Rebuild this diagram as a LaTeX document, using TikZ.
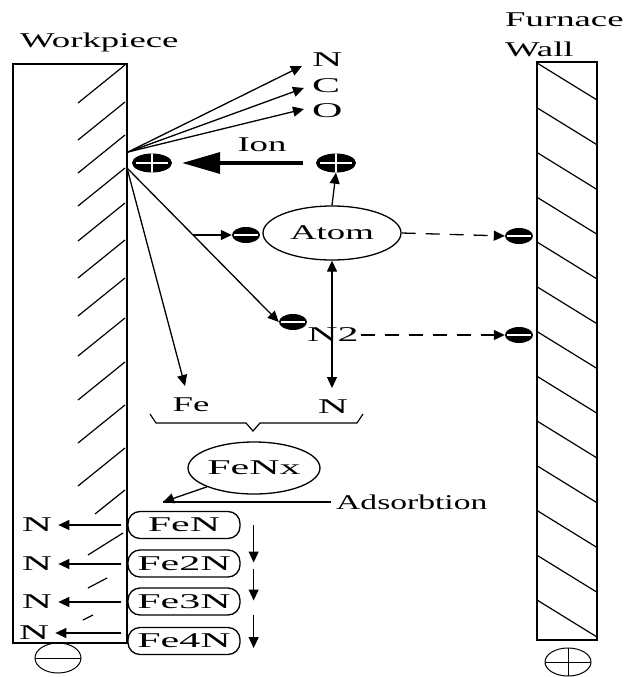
\documentclass[tikz,border=0pt]{standalone}
\usepackage{fontspec}
\usepackage{graphicx}
\setmainfont{Liberation Serif}
\newcommand\sx[1]{\scalebox{1.75}[1]{#1}}
\newcommand\sw[1]{\scalebox{2.0}[1]{#1}}
\usetikzlibrary{arrows.meta,shapes.geometric,calc}
\begin{document}
\begin{tikzpicture}[x=1pt,y=-1pt,
  txt/.style={inner sep=0pt, font={\fontsize{21}{23}\selectfont}},
  arr/.style={-{Triangle[length=11pt,width=10pt]}, line width=1.3pt},
  bigarr/.style={-{Triangle[length=38pt,width=21pt]}, line width=3.5pt},
  dasharr/.style={arr, dash pattern=on 14pt off 10pt},
  wallline/.style={line width=2.2pt},
  hatch/.style={line width=1.2pt},
  plusion/.style={ellipse, fill=black, minimum width=40pt, minimum height=19pt, inner sep=0pt,
    path picture={\draw[white, line width=2.4pt]
      ([xshift=4pt]path picture bounding box.west) -- ([xshift=-4pt]path picture bounding box.east)
      (path picture bounding box.north) -- (path picture bounding box.south);}},
  minusion/.style={ellipse, fill=black, minimum width=28pt, minimum height=16pt, inner sep=0pt,
    path picture={\draw[white, line width=2pt]
      ([xshift=2pt]path picture bounding box.west) -- ([xshift=-2pt]path picture bounding box.east);}},
  bx/.style={draw, rounded corners=12pt, minimum width=112pt, minimum height=27pt, inner sep=0pt, line width=1.3pt, txt},
  oval/.style={draw, ellipse, inner sep=0pt, line width=1.3pt}
]
\useasboundingbox (0,0) rectangle (631,677);

% walls
\draw[wallline] (13,64) rectangle (127,643);
\draw[wallline] (537,62) rectangle (597,640);
\foreach \y in {65,102,135,168,203,240,278,318,362,405,448} {
  \draw[hatch] (78,\y+38) -- (125,\y);
}
\draw[hatch] (95,514) -- (125,490);
\draw[hatch] (88,555) -- (123,533);
\draw[hatch] (88,588) -- (107,578);
\draw[hatch] (83,620) -- (93,615);
\foreach \k in {0,...,12} {
  \draw[hatch] (537,63+\k*44.75) -- (597,100+\k*44.75);
}

% labels
\node[txt, anchor=west] (wpl) at (20,42) {\sx{Workpiece}};
\node[txt, anchor=west] (fur) at (505,20) {\sx{Furnace}};
\node[txt, anchor=west] (wal) at (505,49) {\sx{Wall}};

% sources
\coordinate (src1) at (128,152);
\coordinate (src2) at (127,168);

% N C O
\node[txt, anchor=west] (lN) at (312,60) {\sw{N}};
\node[txt, anchor=west] (lC) at (312,86) {\sw{C}};
\node[txt, anchor=west] (lO) at (312,111) {\sw{O}};
\coordinate (tN) at (302,66);
\coordinate (tC) at (304,88);
\coordinate (tO) at (304,109);
\draw[arr] (src1) -- (tN);
\draw[arr] (src1) -- (tC);
\draw[arr] (src1) -- (tO);

% ions
\node[plusion] (pion1) at (152,163) {};
\node[plusion] (pion2) at (336,163) {};
\node[txt] (ion) at (262,145) {\sx{Ion}};
\draw[bigarr] ([xshift=-13pt]pion2.west) -- ([xshift=10pt]pion1.east);

\node[oval, minimum width=138pt, minimum height=54pt, txt] (atom) at (332,233) {\sx{Atom}};
\draw[arr] (atom.north) -- (pion2.south);

\node[minusion] (m1) at (246,235) {};
\coordinate (br) at (193,235);
\draw[arr] (br) -- (m1.west);

\node[minusion] (m2) at (293,322) {};
\draw[arr] (src2) -- (m2.west);

\node[minusion] (mw1) at (519,236) {};
\node[minusion] (mw2) at (519,335) {};
\draw[dasharr] (atom.east) -- (mw1.west);

\node[txt] (n2) at (333,335) {\sw{N2}};
\draw[dasharr] ([xshift=2pt]n2.east) -- (mw2.west);

\node[txt] (nb) at (333,407) {\sw{N}};
\coordinate (tNd) at (332,388);
\draw[{Triangle[length=11pt,width=10pt]}-{Triangle[length=11pt,width=10pt]}, line width=1.3pt] (atom.south) -- (tNd);

\node[txt] (fe) at (191,405) {\sx{Fe}};
\coordinate (tFe) at (185,386);
\draw[arr] (src2) -- (tFe);

% brace
\draw[line width=1.2pt] (150,414) -- (156,423) -- (246,423) -- (253,431) -- (260,423) -- (357,423) -- (363,414);

% FeNx
\node[oval, minimum width=104pt, minimum height=52pt, txt] (fenx) at (254,468) {\sw{FeNx}};
\node[txt, anchor=west] (adsl) at (336,502) {\scalebox{1.6}[1]{Adsorbtion}};
\coordinate (ads) at (163,502);
\draw[line width=1.3pt] ([xshift=-5pt]adsl.west) -- (ads);
\draw[arr] (fenx.south west) -- (ads);

% boxes
\node[bx] (b1) at (184,525) {\sw{FeN}};
\node[bx] (b2) at (184,563.5) {\sw{Fe2N}};
\node[bx] (b3) at (184,601.5) {\sw{Fe3N}};
\node[bx] (b4) at (184,641) {\sw{Fe4N}};

\node[txt] (nl1) at (37,525) {\sw{N}};
\node[txt] (nl2) at (37,564) {\sw{N}};
\node[txt] (nl3) at (37,602) {\sw{N}};
\node[txt] (nl4) at (34,633) {\sw{N}};
\draw[arr] ($(nl1.east -| b1.west)+(-6,0)$) -- ($(nl1.east)+(6,0)$);
\draw[arr] ($(nl2.east -| b2.west)+(-6,0)$) -- ($(nl2.east)+(6,0)$);
\draw[arr] ($(nl3.east -| b3.west)+(-6,0)$) -- ($(nl3.east)+(6,0)$);
\draw[arr] ($(nl4.east -| b4.west)+(-6,0)$) -- ($(nl4.east)+(6,0)$);

\draw[arr] ($(b1.east)+(13,0)$) -- ($(b2.east)+(13,-1)$);
\draw[arr] ($(b2.east)+(13,5)$) -- ($(b3.east)+(13,-1)$);
\draw[arr] ($(b3.east)+(13,13)$) -- ($(b4.east)+(13,7)$);

% polarity
\node[oval, line width=1pt, minimum width=46pt, minimum height=30pt,
  path picture={\draw[line width=1pt] (path picture bounding box.west) -- (path picture bounding box.east);}] (neg) at (58,658) {};
\node[oval, line width=1pt, minimum width=46pt, minimum height=28pt,
  path picture={\draw[line width=1pt] (path picture bounding box.west) -- (path picture bounding box.east)
     (path picture bounding box.north) -- (path picture bounding box.south);}] (pos) at (568,662) {};
\end{tikzpicture}
\end{document}
